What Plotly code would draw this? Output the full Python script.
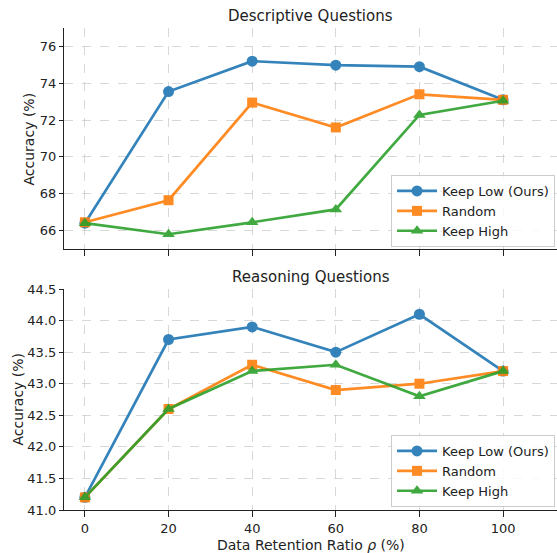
import plotly.graph_objects as go

ratios = [0, 20, 40, 60, 80, 100]
series_names = ["Keep Low (Ours)", "Random", "Keep High"]

desc_keep_low = [66.4, 73.55, 75.2, 74.98, 74.9, 73.1]
desc_random = [66.45, 67.65, 72.95, 71.6, 73.4, 73.1]
desc_keep_high = [66.4, 65.8, 66.45, 67.15, 72.28, 73.05]

reas_keep_low = [41.2, 43.7, 43.9, 43.5, 44.1, 43.2]
reas_random = [41.2, 42.6, 43.3, 42.9, 43.0, 43.2]
reas_keep_high = [41.2, 42.6, 43.2, 43.3, 42.8, 43.2]

colors = ["#1f77b4", "#ff7f0e", "#2ca02c"]
symbols = ["circle", "square", "triangle-up"]
msizes = [11, 10, 11]

FONT = "DejaVu Sans"
fig = go.Figure()

top = [desc_keep_low, desc_random, desc_keep_high]
bot = [reas_keep_low, reas_random, reas_keep_high]

for i, name in enumerate(series_names):
    fig.add_trace(go.Scatter(
        x=ratios, y=top[i], name=name, mode="lines+markers",
        line=dict(color=colors[i], width=2.7),
        marker=dict(symbol=symbols[i], size=msizes[i], color=colors[i]),
        opacity=0.9, xaxis="x", yaxis="y", legend="legend",
    ))
for i, name in enumerate(series_names):
    fig.add_trace(go.Scatter(
        x=ratios, y=bot[i], name=name, mode="lines+markers",
        line=dict(color=colors[i], width=2.7),
        marker=dict(symbol=symbols[i], size=msizes[i], color=colors[i]),
        opacity=0.9, xaxis="x2", yaxis="y2", legend="legend2",
    ))

grid = dict(showgrid=True, gridcolor="rgba(190,190,190,0.6)", griddash="dash", gridwidth=1)
axline = dict(showline=True, linecolor="#222", linewidth=1.2, ticks="outside",
              tickcolor="#222", zeroline=False, automargin=False,
              tickfont=dict(family=FONT, size=13, color="#222"))

xr = [-5, 112.9]
leg = dict(xanchor="right", yanchor="bottom",
           bgcolor="rgba(255,255,255,0.85)", bordercolor="#ccc", borderwidth=1,
           font=dict(family=FONT, size=13), tracegroupgap=0, itemwidth=40)
fig.update_layout(
    width=557, height=553,
    margin=dict(l=64, r=0, t=28, b=43, autoexpand=False),
    paper_bgcolor="white", plot_bgcolor="white",
    font=dict(family=FONT, size=13, color="#222"),
    xaxis=dict(domain=[0, 1], anchor="y", range=xr, tickvals=ratios, showticklabels=False,
               ticklen=6, **grid, **axline),
    yaxis=dict(domain=[0.5415, 1], anchor="x", range=[65, 77], tickvals=[66, 68, 70, 72, 74, 76],
               ticklen=4, **grid, **axline),
    xaxis2=dict(domain=[0, 1], anchor="y2", range=xr, tickvals=ratios, ticklen=6,
                **grid, **axline),
    yaxis2=dict(domain=[0, 0.4585], anchor="x2", range=[41, 44.5],
                tickvals=[41.0, 41.5, 42.0, 42.5, 43.0, 43.5, 44.0, 44.5], tickformat=".1f",
                ticklen=4, **grid, **axline),
    legend=dict(x=0.996, y=0.5456, **leg),
    legend2=dict(x=0.996, y=0.0062, **leg),
    annotations=[
        dict(text="Descriptive Questions", x=0.5, y=1, xref="paper", yref="paper",
             xanchor="center", yanchor="bottom", yshift=1, showarrow=False,
             font=dict(family=FONT, size=15, color="#222")),
        dict(text="Reasoning Questions", x=0.5, y=0.4585, xref="paper", yref="paper",
             xanchor="center", yanchor="bottom", yshift=1, showarrow=False,
             font=dict(family=FONT, size=15, color="#222")),
        dict(text="Data Retention Ratio <i>ρ</i> (%)", x=0.5, y=0, xref="paper", yref="paper",
             xanchor="center", yanchor="top", yshift=-25, showarrow=False,
             font=dict(family=FONT, size=14, color="#222")),
        dict(text="Accuracy (%)", x=-0.069, y=(1 + 0.5415) / 2, xref="paper", yref="paper",
             xanchor="center", yanchor="middle", textangle=-90, showarrow=False,
             font=dict(family=FONT, size=14, color="#222")),
        dict(text="Accuracy (%)", x=-0.0953, y=0.4585 / 2, xref="paper", yref="paper",
             xanchor="center", yanchor="middle", textangle=-90, showarrow=False,
             font=dict(family=FONT, size=14, color="#222")),
    ],
)

fig.write_html("out.html", config={"displayModeBar": False},
               post_script="document.body.style.margin='0px';")
